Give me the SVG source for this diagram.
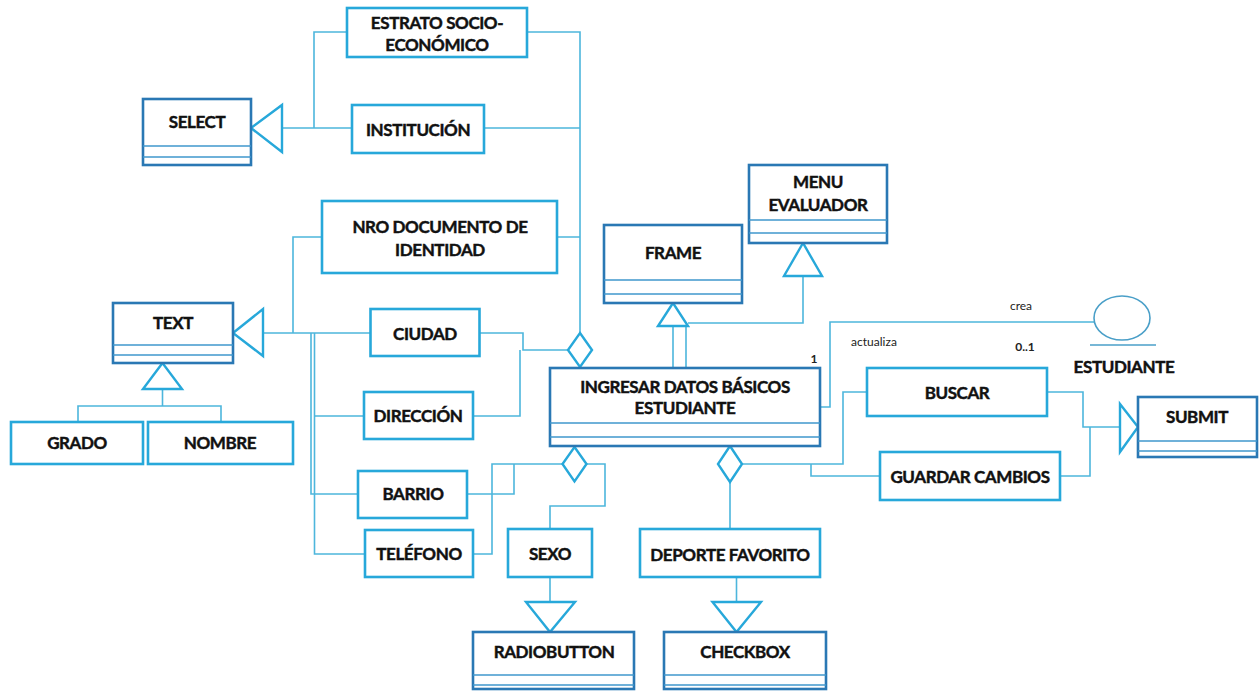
<svg xmlns="http://www.w3.org/2000/svg" width="1259" height="691" viewBox="0 0 1259 691">
  <style>
    .bg { fill: #ffffff; }
    .wire { fill: none; stroke: #4db6dc; stroke-width: 1.6; }
    .head { fill: #ffffff; stroke: #27a8da; stroke-width: 2.4; stroke-linejoin: miter; }
    .attr { fill: #ffffff; stroke: #27a8da; stroke-width: 2.6; }
    .cls { fill: #ffffff; stroke: #2a78b4; stroke-width: 2.6; }
    .sep { stroke: #3f97cc; stroke-width: 1.4; }
    .lbl { font-family: Lato, "Liberation Sans", sans-serif; font-weight: 700; font-size: 17px; letter-spacing: -0.4px; fill: #111111; stroke: #111111; stroke-width: 0.45px; text-anchor: middle; }
    .small { font-family: Lato, "Liberation Sans", sans-serif; font-size: 12px; fill: #222222; text-anchor: middle; }
    .actor { fill: none; stroke: #4a9fc8; stroke-width: 1.6; }
  </style>
  <rect class="bg" x="0" y="0" width="1259" height="691"/>

  <!-- connectors -->
  <g id="connectors">
    <!-- SELECT generalization -->
    <path class="wire" d="M282 128 H352 M314 128 V32 H347"/>
    <polygon class="head" points="251,128 282,105 282,152"/>
    <!-- aggregation of form fields into INGRESAR DATOS -->
    <path class="wire" d="M527 32 H580 V333 M484 128 H580 M557 237 H580 M479 333 H523 V350 H568 M473 416 H520 V350"/>
    <polygon class="head" points="580,333 592,350 580,367 568,350"/>
    <!-- TEXT generalization -->
    <path class="wire" d="M263 333 H370.5 M293 333 V237 H322 M311 333 V494 H358 M314.5 333 V554 H365 M314.5 416 H364"/>
    <polygon class="head" points="233,333 263,309 263,356"/>
    <!-- GRADO / NOMBRE -->
    <path class="wire" d="M162.5 389 V406 M78 422 V406 H221 V422"/>
    <polygon class="head" points="162.5,363 143,389 182,389"/>
    <!-- BARRIO / TELEFONO / SEXO aggregation -->
    <path class="wire" d="M467 494 H514 V464 M473 554 H492 V464 H562.5 M586.5 464 H605 V506 H550 V529"/>
    <polygon class="head" points="574.5,447 586.5,464 574.5,481.5 562.5,464"/>
    <!-- SEXO to RADIOBUTTON -->
    <path class="wire" d="M550 577 V602"/>
    <polygon class="head" points="526,602 575,602 550,632"/>
    <!-- DEPORTE / BUSCAR / GUARDAR aggregation -->
    <path class="wire" d="M730 482 V529 M742 464 H843 V392 H867 M811 464 V476 H880"/>
    <polygon class="head" points="730,446 742,464 730,482 718,464"/>
    <!-- DEPORTE to CHECKBOX -->
    <path class="wire" d="M736.5 578 V602"/>
    <polygon class="head" points="712.5,602 761,602 736.5,632"/>
    <!-- SUBMIT generalization -->
    <path class="wire" d="M1047 392 H1083 V427 H1120 M1060 476 H1090 V427"/>
    <polygon class="head" points="1120,404 1120,452 1138,427"/>
    <!-- FRAME generalization -->
    <path class="wire" d="M673 326 V368 M686 326 V368"/>
    <polygon class="head" points="673,303 658,326 688,326"/>
    <!-- MENU EVALUADOR generalization -->
    <path class="wire" d="M688 323 H803 V276"/>
    <polygon class="head" points="803,243 784,276 822,276"/>
    <!-- association with ESTUDIANTE -->
    <path class="wire" d="M820 407 H830 V322 H1094"/>
    <text class="small" x="1021" y="310">crea</text>
    <text class="small" x="874" y="346">actualiza</text>
    <text class="small" x="1025" y="351" style="font-weight:700">0..1</text>
    <text class="small" x="814" y="363" style="font-weight:700">1</text>
  </g>

  <!-- nodes -->
  <g id="estrato">
    <rect class="attr" x="347" y="8" width="180" height="49"/>
    <text class="lbl" x="437" y="29">ESTRATO SOCIO-</text>
    <text class="lbl" x="437" y="51">ECONÓMICO</text>
  </g>
  <g id="select">
    <rect class="cls" x="143" y="99" width="108" height="66"/>
    <line class="sep" x1="143" y1="146" x2="251" y2="146"/>
    <line class="sep" x1="143" y1="157" x2="251" y2="157"/>
    <text class="lbl" x="197" y="128">SELECT</text>
  </g>
  <g id="institucion">
    <rect class="attr" x="352" y="105" width="132" height="48"/>
    <text class="lbl" x="418" y="136">INSTITUCIÓN</text>
  </g>
  <g id="nro-documento">
    <rect class="attr" x="322" y="201" width="235" height="72"/>
    <text class="lbl" x="440" y="233">NRO DOCUMENTO DE</text>
    <text class="lbl" x="440" y="256">IDENTIDAD</text>
  </g>
  <g id="text">
    <rect class="cls" x="113" y="303" width="120" height="60"/>
    <line class="sep" x1="113" y1="345" x2="233" y2="345"/>
    <line class="sep" x1="113" y1="355" x2="233" y2="355"/>
    <text class="lbl" x="173" y="329">TEXT</text>
  </g>
  <g id="ciudad">
    <rect class="attr" x="370.5" y="309" width="109" height="47"/>
    <text class="lbl" x="425" y="340">CIUDAD</text>
  </g>
  <g id="direccion">
    <rect class="attr" x="364" y="392" width="109" height="47"/>
    <text class="lbl" x="418" y="422">DIRECCIÓN</text>
  </g>
  <g id="barrio">
    <rect class="attr" x="358" y="471" width="109" height="47"/>
    <text class="lbl" x="413" y="500">BARRIO</text>
  </g>
  <g id="telefono">
    <rect class="attr" x="365" y="530" width="108" height="47"/>
    <text class="lbl" x="419" y="560">TELÉFONO</text>
  </g>
  <g id="grado">
    <rect class="attr" x="11" y="422" width="132" height="42"/>
    <text class="lbl" x="77" y="449">GRADO</text>
  </g>
  <g id="nombre">
    <rect class="attr" x="148" y="422" width="145" height="42"/>
    <text class="lbl" x="220" y="449">NOMBRE</text>
  </g>
  <g id="frame">
    <rect class="cls" x="604" y="225" width="138" height="78"/>
    <line class="sep" x1="604" y1="280" x2="742" y2="280"/>
    <line class="sep" x1="604" y1="294" x2="742" y2="294"/>
    <text class="lbl" x="673" y="259">FRAME</text>
  </g>
  <g id="menu-evaluador">
    <rect class="cls" x="749" y="165" width="138" height="78"/>
    <line class="sep" x1="749" y1="220" x2="887" y2="220"/>
    <line class="sep" x1="749" y1="233" x2="887" y2="233"/>
    <text class="lbl" x="818" y="188">MENU</text>
    <text class="lbl" x="818" y="211">EVALUADOR</text>
  </g>
  <g id="ingresar-datos">
    <rect class="cls" x="550" y="368" width="270" height="78"/>
    <line class="sep" x1="550" y1="423" x2="820" y2="423"/>
    <line class="sep" x1="550" y1="437" x2="820" y2="437"/>
    <text class="lbl" x="685" y="393">INGRESAR DATOS BÁSICOS</text>
    <text class="lbl" x="685" y="414">ESTUDIANTE</text>
  </g>
  <g id="buscar">
    <rect class="attr" x="867" y="368" width="180" height="48"/>
    <text class="lbl" x="957" y="399">BUSCAR</text>
  </g>
  <g id="guardar-cambios">
    <rect class="attr" x="880" y="452" width="180" height="48"/>
    <text class="lbl" x="970" y="483">GUARDAR CAMBIOS</text>
  </g>
  <g id="submit">
    <rect class="cls" x="1138" y="397" width="119" height="60"/>
    <line class="sep" x1="1138" y1="441" x2="1257" y2="441"/>
    <line class="sep" x1="1138" y1="451" x2="1257" y2="451"/>
    <text class="lbl" x="1197" y="423">SUBMIT</text>
  </g>
  <g id="sexo">
    <rect class="attr" x="508" y="529" width="84" height="48"/>
    <text class="lbl" x="550" y="560">SEXO</text>
  </g>
  <g id="deporte-favorito">
    <rect class="attr" x="640" y="529" width="180" height="48"/>
    <text class="lbl" x="730" y="561">DEPORTE FAVORITO</text>
  </g>
  <g id="radiobutton">
    <rect class="cls" x="473" y="632" width="161" height="57"/>
    <line class="sep" x1="473" y1="675" x2="634" y2="675"/>
    <line class="sep" x1="473" y1="685" x2="634" y2="685"/>
    <text class="lbl" x="554" y="658">RADIOBUTTON</text>
  </g>
  <g id="checkbox">
    <rect class="cls" x="664" y="632" width="162" height="57"/>
    <line class="sep" x1="664" y1="675" x2="826" y2="675"/>
    <line class="sep" x1="664" y1="685" x2="826" y2="685"/>
    <text class="lbl" x="745" y="658">CHECKBOX</text>
  </g>
  <g id="estudiante">
    <ellipse class="actor" cx="1122" cy="318" rx="28" ry="22"/>
    <line class="actor" x1="1090" y1="345" x2="1156" y2="345"/>
    <text class="lbl" x="1124" y="373">ESTUDIANTE</text>
  </g>
</svg>
